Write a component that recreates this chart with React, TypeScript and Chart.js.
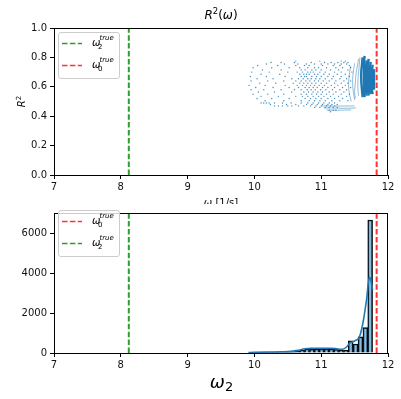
import { useEffect, useRef } from "react";
import { Chart, registerables } from "chart.js";
Chart.register(...registerables);

// ---------- data ----------
const xTicks = [7, 8, 9, 10, 11, 12];
const r2Ticks = [0, 0.2, 0.4, 0.6, 0.8, 1.0];
const countTicks = [0, 2000, 4000, 6000];
const omega2True = 8.12;
const omega0True = 11.83;

// scatter rows: [R2, omega values]
const scatterRows: [number, number[]][] = [
  [0.775, [10.62, 10.98, 11.3, 11.36]],
  [0.765, [10.25, 10.4, 10.6, 10.85, 11.05, 11.15, 11.25, 11.34, 11.4]],
  [0.755, [10.18, 10.45, 10.65, 10.78, 10.9, 11.0, 11.1, 11.2, 11.3, 11.38]],
  [0.745, [10.05, 10.35, 10.62, 10.75, 10.82, 11.02, 11.18, 11.28, 11.42]],
  [0.73, [9.98, 10.26, 10.52, 10.68, 10.8, 10.9, 10.96, 11.08, 11.22, 11.32, 11.44]],
  [0.715, [10.12, 10.4, 10.7, 10.76, 10.86, 10.92, 11.0, 11.14, 11.26, 11.4]],
  [0.7, [9.96, 10.22, 10.5, 10.64, 10.72, 10.8, 10.84, 10.88, 10.98, 11.06, 11.2, 11.3, 11.46]],
  [0.685, [10.1, 10.38, 10.68, 10.74, 10.78, 10.82, 10.9, 10.95, 11.04, 11.12, 11.24, 11.36]],
  [0.67, [9.94, 10.18, 10.46, 10.7, 10.75, 10.78, 10.86, 10.93, 11.0, 11.1, 11.18, 11.3, 11.42]],
  [0.655, [10.04, 10.28, 10.56, 10.66, 10.73, 10.8, 10.85, 10.92, 10.98, 11.06, 11.16, 11.28, 11.38]],
  [0.64, [9.95, 10.2, 10.44, 10.62, 10.7, 10.77, 10.83, 10.9, 10.96, 11.03, 11.12, 11.22, 11.34, 11.44]],
  [0.625, [10.08, 10.32, 10.58, 10.68, 10.74, 10.8, 10.86, 10.92, 11.0, 11.08, 11.2, 11.3, 11.4]],
  [0.61, [9.92, 10.16, 10.46, 10.64, 10.72, 10.78, 10.84, 10.9, 10.97, 11.05, 11.15, 11.25, 11.36]],
  [0.595, [10.02, 10.28, 10.52, 10.66, 10.76, 10.82, 10.88, 10.94, 11.02, 11.1, 11.2, 11.32, 11.44]],
  [0.58, [9.95, 10.14, 10.4, 10.6, 10.7, 10.79, 10.85, 10.91, 10.99, 11.07, 11.17, 11.28, 11.38]],
  [0.565, [10.06, 10.3, 10.56, 10.74, 10.81, 10.88, 10.95, 11.02, 11.12, 11.22, 11.34]],
  [0.55, [9.98, 10.2, 10.44, 10.7, 10.78, 10.86, 10.93, 11.0, 11.08, 11.18, 11.3, 11.42]],
  [0.535, [10.1, 10.36, 10.62, 10.72, 10.8, 10.88, 10.96, 11.04, 11.14, 11.26, 11.38]],
  [0.52, [10.04, 10.26, 10.52, 10.76, 10.84, 10.92, 11.0, 11.1, 11.2, 11.32]],
  [0.505, [10.16, 10.44, 10.7, 10.82, 10.9, 10.98, 11.06, 11.16, 11.28, 11.4]],
  [0.49, [10.1, 10.14, 10.18, 10.22, 10.3, 10.42, 10.55, 10.7, 10.8, 10.88, 10.96, 11.04, 11.12, 11.2]],
  [0.48, [10.24, 10.48, 10.62, 10.78, 10.86, 10.94, 11.02, 11.1, 11.16, 11.24]],
  [0.47, [10.3, 10.36, 10.42, 10.5, 10.56, 10.66, 10.74, 10.84, 10.92, 11.0, 11.08, 11.14, 11.2]],
  [0.46, [10.9, 10.98, 11.06, 11.12, 11.18, 11.24]],
  [0.44, [11.12, 11.18, 11.22]],
  [0.43, [11.14]],
];

// thin streaks of closely packed points
const thinStrands: [number, number][][] = [
  [[11.04, 0.456], [11.2, 0.455], [11.36, 0.454], [11.52, 0.456]],
  [[11.08, 0.442], [11.25, 0.441], [11.45, 0.443]],
  [[11.0, 0.47], [11.25, 0.469], [11.5, 0.47]],
  [[11.44, 0.74], [11.42, 0.68], [11.41, 0.62], [11.42, 0.56], [11.45, 0.5]],
  [[11.5, 0.76], [11.48, 0.7], [11.47, 0.63], [11.48, 0.57], [11.5, 0.51]],
  [[11.56, 0.79], [11.54, 0.74], [11.52, 0.68], [11.51, 0.62], [11.5, 0.57], [11.51, 0.52]],
  [[11.58, 0.8], [11.57, 0.75], [11.56, 0.7], [11.55, 0.64], [11.55, 0.58], [11.56, 0.54]],
];

// dense block near omega0
const denseStrands: [number, number][][] = [
  [[11.62, 0.8], [11.61, 0.75], [11.6, 0.7], [11.6, 0.64], [11.61, 0.58], [11.62, 0.53]],
  [[11.65, 0.81], [11.64, 0.76], [11.64, 0.7], [11.64, 0.63], [11.64, 0.57], [11.65, 0.53]],
  [[11.68, 0.78], [11.67, 0.72], [11.67, 0.65], [11.67, 0.58], [11.68, 0.54]],
  [[11.71, 0.79], [11.7, 0.74], [11.7, 0.66], [11.7, 0.59], [11.71, 0.54]],
  [[11.74, 0.77], [11.73, 0.71], [11.73, 0.64], [11.73, 0.58], [11.74, 0.55]],
  [[11.77, 0.75], [11.76, 0.7], [11.76, 0.63], [11.76, 0.58], [11.77, 0.55]],
  [[11.79, 0.72], [11.79, 0.65], [11.79, 0.58]],
];

// histogram
const binCenters = [
  9.915, 9.988, 10.061, 10.134, 10.206, 10.279, 10.352, 10.424, 10.497, 10.57,
  10.642, 10.715, 10.788, 10.861, 10.933, 11.006, 11.079, 11.152, 11.224, 11.297,
  11.37, 11.442, 11.515, 11.588, 11.661, 11.733,
];
const binCounts = [
  25, 30, 35, 40, 40, 45, 45, 50, 50, 55,
  80, 150, 200, 195, 200, 205, 210, 200, 185, 150,
  140, 610, 450, 810, 1270, 6650,
];
const kdeX = [9.91, 10.0, 10.2, 10.4, 10.55, 10.65, 10.75, 10.85, 10.95, 11.05, 11.15, 11.25, 11.32, 11.38, 11.43, 11.5, 11.55, 11.58, 11.63, 11.68, 11.72, 11.745, 11.77];
const kdeY = [25, 35, 50, 60, 80, 130, 210, 240, 235, 240, 240, 200, 190, 300, 500, 600, 700, 870, 1600, 2700, 3780, 3600, 3150];

// ---------- styling ----------
const BLUE = "#1f77b4";
const GREEN = "#2ca02c";
const RED = "#ff3333";
const FONT = '"DejaVu Sans"';

Chart.defaults.font.family = FONT;
Chart.defaults.font.size = 10;
Chart.defaults.color = "#111";

type Piece = { t: string; font: string; dy?: number };
function drawPieces(ctx: CanvasRenderingContext2D, pieces: Piece[], cx: number, base: number) {
  let w = 0;
  for (const p of pieces) { ctx.font = p.font; w += ctx.measureText(p.t).width; }
  let x = cx - w / 2;
  ctx.textAlign = "left";
  ctx.textBaseline = "alphabetic";
  for (const p of pieces) {
    ctx.font = p.font;
    ctx.fillText(p.t, x, base + (p.dy || 0));
    x += ctx.measureText(p.t).width;
  }
}

function drawFrame(chart: any) {
  const { ctx, chartArea: a } = chart;
  ctx.save();
  ctx.strokeStyle = "#000";
  ctx.lineWidth = 1;
  ctx.strokeRect(Math.round(a.left) + 0.5, Math.round(a.top) + 0.5, Math.round(a.right) - Math.round(a.left) - 1, Math.round(a.bottom) - Math.round(a.top));
  ctx.restore();
}

function drawLegend(ctx: CanvasRenderingContext2D, left: number, top: number, entries: { color: string; sub: string }[]) {
  ctx.save();
  const w = 61, h = 46, r = 2.5;
  ctx.beginPath();
  ctx.roundRect(left + 0.5, top + 0.5, w, h, r);
  ctx.fillStyle = "rgba(255,255,255,0.8)";
  ctx.fill();
  ctx.strokeStyle = "#cccccc";
  ctx.lineWidth = 1;
  ctx.stroke();
  entries.forEach((e, i) => {
    const y = top + 11.5 + i * 22;
    ctx.beginPath();
    ctx.setLineDash([5.5, 2.4]);
    ctx.strokeStyle = e.color;
    ctx.lineWidth = 1.6;
    ctx.moveTo(left + 4, y);
    ctx.lineTo(left + 24, y);
    ctx.stroke();
    ctx.setLineDash([]);
    ctx.fillStyle = "#000";
    ctx.textAlign = "left";
    ctx.textBaseline = "alphabetic";
    ctx.font = `italic 10px ${FONT}`;
    ctx.fillText("ω", left + 34, y + 2.5);
    ctx.font = `italic 7px ${FONT}`;
    ctx.fillText("true", left + 41.5, y - 3.2);
    ctx.font = `7px ${FONT}`;
    ctx.fillText(e.sub, left + 40, y + 5.5);
  });
  ctx.restore();
}

function axisCommon(ticks: number[], fmt: (v: number) => string, size: number, horizontal: boolean, min: number, max: number) {
  return {
    type: "linear" as const,
    min,
    max,
    offset: false,
    afterBuildTicks: (s: any) => { s.ticks = ticks.map((v) => ({ value: v })); },
    afterFit: (s: any) => { if (horizontal) s.height = size; else s.width = size; },
    grid: { display: true, drawOnChartArea: false, drawTicks: true, tickLength: 4, color: "#000", lineWidth: 1, offset: false },
    border: { display: false },
    ticks: { padding: horizontal ? 2 : 3, color: "#111", font: { size: 10, family: FONT }, maxRotation: 0, autoSkip: false, callback: (v: any) => fmt(Number(v)) },
  };
}

function vline(x: number, y0: number, y1: number, color: string, order: number) {
  return {
    type: "line" as const,
    data: [{ x, y: y0 }, { x, y: y1 }],
    borderColor: color,
    borderWidth: 2,
    borderDash: [5.5, 2.4],
    pointRadius: 0,
    showLine: true,
    fill: false,
    order,
  };
}

export default function App() {
  const topRef = useRef<HTMLCanvasElement>(null);
  const botRef = useRef<HTMLCanvasElement>(null);

  useEffect(() => {
    const scatterPts: { x: number; y: number }[] = [];
    for (const [y, xs] of scatterRows) for (const x of xs) scatterPts.push({ x, y });

    const topPlugin = {
      id: "topDeco",
      afterDraw(chart: any) {
        const ctx = chart.ctx as CanvasRenderingContext2D;
        drawFrame(chart);
        drawLegend(ctx, 58, 32, [{ color: GREEN, sub: "2" }, { color: RED, sub: "0" }]);
        ctx.save();
        ctx.fillStyle = "#000";
        drawPieces(ctx, [
          { t: "R", font: `italic 12px ${FONT}` },
          { t: "2", font: `8.5px ${FONT}`, dy: -5 },
          { t: "(", font: `12px ${FONT}` },
          { t: "ω", font: `italic 12px ${FONT}` },
          { t: ")", font: `12px ${FONT}` },
        ], 221, 19);
        drawPieces(ctx, [
          { t: "ω", font: `italic 10px ${FONT}` },
          { t: " [1/s]", font: `10px ${FONT}` },
        ], 221, 206);
        ctx.translate(25, 101.5);
        ctx.rotate(-Math.PI / 2);
        drawPieces(ctx, [
          { t: "R", font: `italic 10px ${FONT}` },
          { t: "2", font: `7px ${FONT}`, dy: -4 },
        ], 0, 0);
        ctx.restore();
      },
    };

    const botPlugin = {
      id: "botDeco",
      afterDraw(chart: any) {
        const ctx = chart.ctx as CanvasRenderingContext2D;
        drawFrame(chart);
        drawLegend(ctx, 58, 6, [{ color: RED, sub: "0" }, { color: GREEN, sub: "2" }]);
        ctx.save();
        ctx.fillStyle = "#000";
        drawPieces(ctx, [
          { t: "ω", font: `italic 18px ${FONT}` },
          { t: "2", font: `13px ${FONT}`, dy: 2.5 },
        ], 221.5, 184);
        ctx.restore();
      },
    };

    const top = new Chart(topRef.current!, {
      type: "scatter",
      data: {
        datasets: [
          vline(omega2True, 0, 1, GREEN, 1),
          vline(omega0True, 0, 1, RED, 1),
          ...denseStrands.map((s) => ({
            data: s.map(([x, y]) => ({ x, y })),
            showLine: true,
            borderColor: BLUE,
            borderWidth: 2.4,
            pointRadius: 0,
            tension: 0.4,
            order: 2,
          })),
          ...thinStrands.map((s) => ({
            data: s.map(([x, y]) => ({ x, y })),
            showLine: true,
            borderColor: "rgba(31,119,180,0.55)",
            borderWidth: 0.9,
            pointRadius: 0,
            tension: 0.4,
            order: 3,
          })),
          {
            data: scatterPts,
            backgroundColor: "rgba(31,119,180,0.85)",
            borderWidth: 0,
            pointRadius: 0.7,
            order: 4,
          },
        ] as any,
      },
      options: {
        responsive: false,
        maintainAspectRatio: false,
        animation: false,
        devicePixelRatio: 1,
        layout: { padding: { left: 0, right: 13, top: 28, bottom: 0 } },
        plugins: { legend: { display: false }, tooltip: { enabled: false }, title: { display: false } },
        scales: {
          x: axisCommon(xTicks, (v) => String(v), 29, true, 7, 12),
          y: axisCommon(r2Ticks, (v) => v.toFixed(1), 54, false, 0, 1),
        } as any,
      },
      plugins: [topPlugin],
    });

    const bot = new Chart(botRef.current!, {
      type: "bar",
      data: {
        datasets: [
          vline(omega0True, 0, 7000, RED, 1),
          vline(omega2True, 0, 7000, GREEN, 1),
          {
            type: "line",
            data: kdeX.map((x, i) => ({ x, y: kdeY[i] })),
            borderColor: BLUE,
            borderWidth: 1.6,
            pointRadius: 0,
            cubicInterpolationMode: "monotone",
            fill: false,
            order: 2,
          },
          {
            type: "bar",
            data: binCenters.map((x, i) => ({ x, y: binCounts[i] })),
            backgroundColor: "rgba(31,119,180,0.5)",
            borderColor: "#000",
            borderWidth: 1,
            barPercentage: 1,
            categoryPercentage: 1,
            order: 3,
          },
        ] as any,
      },
      options: {
        responsive: false,
        maintainAspectRatio: false,
        animation: false,
        devicePixelRatio: 1,
        layout: { padding: { left: 0, right: 13, top: 1, bottom: 0 } },
        plugins: { legend: { display: false }, tooltip: { enabled: false }, title: { display: false } },
        scales: {
          x: axisCommon(xTicks, (v) => String(v), 46, true, 7, 12),
          y: axisCommon(countTicks, (v) => String(v), 54, false, 0, 7000),
        } as any,
      },
      plugins: [botPlugin],
    });

    return () => { top.destroy(); bot.destroy(); };
  }, []);

  return (
    <div style={{ position: "absolute", left: 0, top: 0, width: 401, height: 399, background: "#fff" }}>
      <canvas ref={topRef} width={401} height={204} style={{ position: "absolute", left: 0, top: 0 }} />
      <canvas ref={botRef} width={401} height={195} style={{ position: "absolute", left: 0, top: 204 }} />
    </div>
  );
}
